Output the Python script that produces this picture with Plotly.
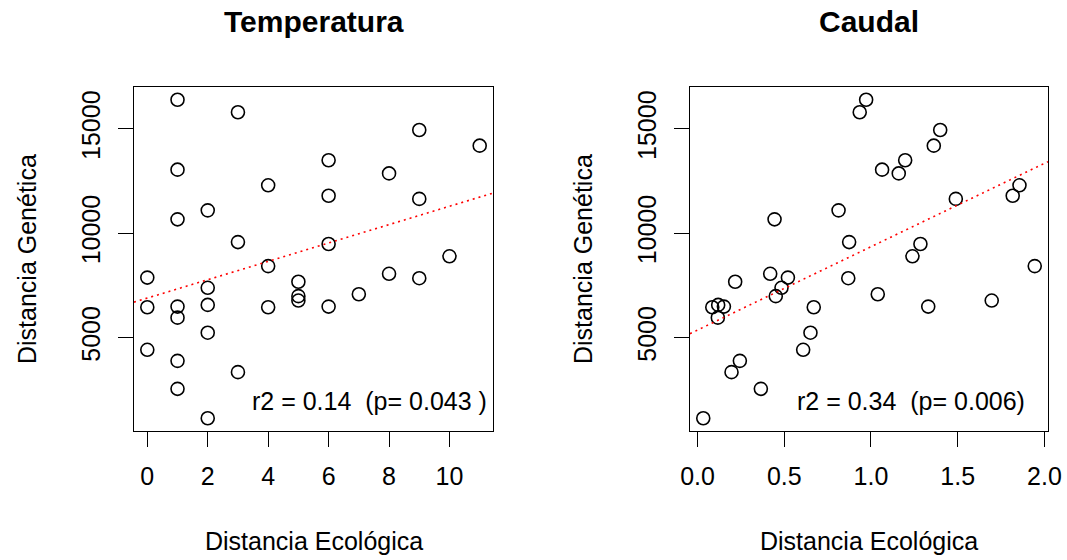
import numpy as np
import plotly.graph_objects as go

# ---- data ----
dist_genetica = [16400, 15800, 14950, 14200, 13500, 13050, 12870, 12300, 11800,
                 11650, 11100, 10670, 9580, 9490, 8900, 8430, 8060, 7880, 7850,
                 7680, 7390, 7080, 6990, 6780, 6570, 6460, 6490, 6460, 6490,
                 5960, 5240, 4420, 3890, 3350, 2550, 1140]
temp_eco = [1, 3, 9, 11, 6, 1, 8, 4, 6, 9, 2, 1, 3, 6, 10, 4, 8, 0, 9, 5, 2, 7,
            5, 5, 2, 0, 1, 4, 6, 1, 2, 0, 1, 3, 1, 2]
caudal_eco = [0.972, 0.935, 1.399, 1.362, 1.197, 1.064, 1.160, 1.856, 1.817,
              1.489, 0.813, 0.444, 0.874, 1.285, 1.239, 1.944, 0.419, 0.521,
              0.869, 0.217, 0.484, 1.039, 0.451, 1.696, 0.119, 0.085, 0.152,
              0.670, 1.330, 0.117, 0.651, 0.609, 0.244, 0.196, 0.365, 0.033]
titles = ["Temperatura", "Caudal"]
stats_text = ["r2 = 0.14\u00a0\u00a0(p= 0.043 )", "r2 = 0.34\u00a0\u00a0(p= 0.006)"]
stats_pos = [(7.35, 1970), (1.232, 1970)]
xlab = "Distancia Ecológica"
ylab = "Distancia Genética"
x_ticks = [[0, 2, 4, 6, 8, 10], [0.0, 0.5, 1.0, 1.5, 2.0]]
x_ticktext = [["0", "2", "4", "6", "8", "10"], ["0.0", "0.5", "1.0", "1.5", "2.0"]]
y_ticks = [5000, 10000, 15000]
y_ticktext = ["5000", "10000", "15000"]

FONT = "Liberation Sans, Arial, Helvetica, sans-serif"
W, H = 1067, 560
x_domains = [[134 / W, 493 / W], [690 / W, 1048 / W]]
y_domain = [(H - 431) / H, (H - 87) / H]


def r_range(v):
    lo, hi = min(v), max(v)
    d = (hi - lo) * 0.04
    return [lo - d, hi + d]


fig = go.Figure()
yr = r_range(dist_genetica)
annotations = []
for i, xs in enumerate([temp_eco, caudal_eco]):
    ax = "" if i == 0 else str(i + 1)
    xr = r_range(xs)
    fig.add_trace(go.Scatter(
        x=xs, y=dist_genetica, mode="markers", xaxis="x" + ax, yaxis="y" + ax,
        marker=dict(symbol="circle-open", size=13, color="black",
                    line=dict(width=1.6, color="black")),
        showlegend=False, hoverinfo="x+y"))
    slope, intercept = np.polyfit(xs, dist_genetica, 1)
    fig.add_trace(go.Scatter(
        x=xr, y=[intercept + slope * xr[0], intercept + slope * xr[1]],
        mode="lines", xaxis="x" + ax, yaxis="y" + ax,
        line=dict(color="red", width=1.6, dash="2px,4px"),
        showlegend=False, hoverinfo="skip"))
    common = dict(showgrid=False, zeroline=False, showline=True, mirror=True,
                  linecolor="black", linewidth=1.3, ticks="outside", ticklen=15,
                  tickwidth=1.3, tickcolor="black",
                  tickfont=dict(family=FONT, size=25, color="black"))
    fig.update_layout(**{
        "xaxis" + ax: dict(domain=x_domains[i], range=xr, anchor="y" + ax,
                           tickvals=x_ticks[i], ticktext=x_ticktext[i],
                           ticklabelstandoff=8, **common),
        "yaxis" + ax: dict(domain=y_domain, range=yr, anchor="x" + ax,
                           tickvals=y_ticks, ticktext=y_ticktext, tickangle=-90,
                           ticklabelstandoff=8, **common),
    })
    cx = (x_domains[i][0] + x_domains[i][1]) / 2
    annotations.append(dict(text="<b>" + titles[i] + "</b>", x=cx, y=(H - 22) / H,
                            xref="paper", yref="paper", showarrow=False,
                            xanchor="center", yanchor="middle",
                            font=dict(family=FONT, size=30, color="black")))
    annotations.append(dict(text=xlab, x=cx, y=(H - 541) / H,
                            xref="paper", yref="paper", showarrow=False,
                            xanchor="center", yanchor="middle",
                            font=dict(family=FONT, size=25, color="black")))
    annotations.append(dict(text=ylab, x=(x_domains[i][0] * W - 107) / W,
                            y=(H - 259) / H, textangle=-90,
                            xref="paper", yref="paper", showarrow=False,
                            xanchor="center", yanchor="middle",
                            font=dict(family=FONT, size=25, color="black")))
    annotations.append(dict(text=stats_text[i], x=stats_pos[i][0], y=stats_pos[i][1],
                            xref="x" + ax, yref="y" + ax, showarrow=False,
                            xanchor="center", yanchor="middle",
                            font=dict(family=FONT, size=25, color="black")))

fig.update_layout(width=W, height=H, autosize=False,
                  margin=dict(l=0, r=0, t=0, b=0, autoexpand=False),
                  paper_bgcolor="white", plot_bgcolor="white",
                  annotations=annotations, font=dict(family=FONT))
fig.write_html("out.html",
               config={"displayModeBar": False, "responsive": False},
               post_script="document.body.style.margin='0px';"
                           "document.body.style.overflow='hidden';")
